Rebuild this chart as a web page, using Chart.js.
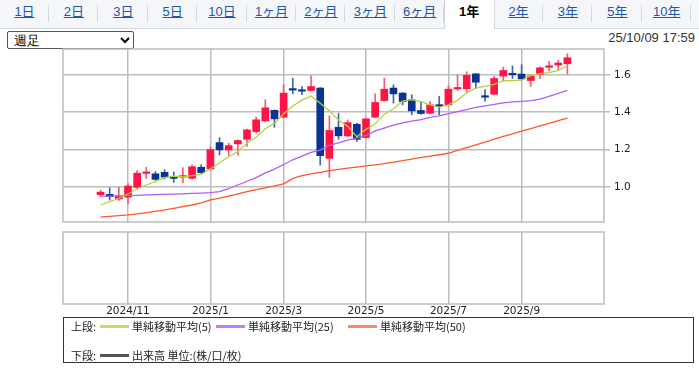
<!DOCTYPE html>
<html lang="ja">
<head>
<meta charset="utf-8">
<script src="https://cdn.jsdelivr.net/npm/chart.js@4.4.1/dist/chart.umd.min.js"></script>
<style>
body{margin:0;width:699px;height:370px;background:#fff;position:relative;overflow:hidden;font-family:Arial,"Liberation Sans","Noto Sans CJK JP",sans-serif}
#tabs{position:absolute;left:0;top:0;width:699px;height:28px;background:#f4f6f9;border-bottom:1px solid #d3d9e1}
.tab{position:absolute;top:0;width:49px;height:28px;line-height:24px;text-align:center;font-size:13px;color:#1f56a8;text-decoration:underline}
.tab:after{content:"";position:absolute;right:0;top:5px;height:17px;border-right:1px solid #d3d9e1}
.tab.on{background:#fff;color:#000;font-weight:bold;text-decoration:none;height:29px;border-left:1px solid #cfd5dd;border-right:1px solid #cfd5dd;margin-left:-1px}
.tab.on:after{display:none}
#period{position:absolute;left:7px;top:31px;width:127px;height:18px;font-size:13px;padding:0 2px;border:1px solid #555;border-radius:2px;background:#fff}
#stamp{position:absolute;right:4px;top:30px;font-size:13px;color:#333}
canvas{position:absolute;left:0}
#main{top:40px}
#sub{top:226px}
#legend{position:absolute;left:63px;top:317px;width:629px;height:44px;border:1.5px solid #333;font-size:11px;color:#222;font-family:"Noto Sans CJK JP",sans-serif}
.row{position:absolute;left:7px;height:14px;line-height:14px;white-space:nowrap}
.row span{position:absolute;top:0}
.sw{position:absolute;top:6px;width:29px;height:3px}
</style>
</head>
<body>
<div id="tabs"></div>
<select id="period"><option>週足</option></select>
<div id="stamp">25/10/09 17:59</div>
<canvas id="main" width="699" height="183"></canvas>
<canvas id="sub" width="699" height="100"></canvas>
<div id="legend">
  <div class="row" style="top:1px">
    <span style="left:0">上段:</span>
    <i class="sw" style="left:29px;background:#c0dc6a"></i><span style="left:61px">単純移動平均(5)</span>
    <i class="sw" style="left:145px;background:#bf7cff"></i><span style="left:177px">単純移動平均(25)</span>
    <i class="sw" style="left:277px;background:#ff8866"></i><span style="left:309px">単純移動平均(50)</span>
  </div>
  <div class="row" style="top:30px">
    <span style="left:0">下段:</span>
    <i class="sw" style="left:29px;background:#555"></i><span style="left:61px">出来高 単位:(株/口/枚)</span>
  </div>
</div>
<script>
const tabNames = ['1日','2日','3日','5日','10日','1ヶ月','2ヶ月','3ヶ月','6ヶ月','1年','2年','3年','5年','10年'];
const activeTab = '1年';

// 週足 2024/10/14 - 2025/10/06
const weeks = ['10/14','10/21','10/28','11/04','11/11','11/18','11/25','12/02','12/09','12/16','12/23','12/30',
  '01/06','01/13','01/20','01/27','02/03','02/10','02/17','02/24','03/03','03/10','03/17','03/24','03/31',
  '04/07','04/14','04/21','04/28','05/05','05/12','05/19','05/26','06/02','06/09','06/16','06/23','06/30',
  '07/07','07/14','07/21','07/28','08/04','08/11','08/18','08/25','09/01','09/08','09/15','09/22','09/29','10/06'];

const open  = [0.958,0.960,0.935,0.945,0.997,1.072,1.070,1.078,1.055,1.052,1.046,1.105,1.096,1.237,1.198,1.230,1.255,1.296,1.353,1.410,
  1.373,1.522,1.516,1.516,1.529,1.153,1.319,1.273,1.335,1.264,1.373,1.462,1.529,1.502,1.466,1.409,1.394,1.436,1.439,1.524,
  1.525,1.605,1.484,1.496,1.593,1.604,1.604,1.569,1.602,1.640,1.652,1.659];
const high  = [0.983,0.995,0.998,1.017,1.087,1.105,1.082,1.092,1.080,1.103,1.118,1.119,1.215,1.264,1.234,1.252,1.309,1.373,1.466,1.412,
  1.546,1.582,1.537,1.595,1.532,1.380,1.394,1.359,1.340,1.368,1.498,1.582,1.546,1.505,1.493,1.457,1.457,1.484,1.541,1.600,
  1.616,1.606,1.521,1.592,1.641,1.647,1.654,1.600,1.642,1.672,1.677,1.713];
const low   = [0.948,0.930,0.927,0.910,0.988,1.045,1.035,1.042,1.024,1.023,1.041,1.073,1.091,1.171,1.167,1.170,1.216,1.287,1.348,1.319,
  1.372,1.498,1.493,1.514,1.117,1.051,1.255,1.269,1.243,1.262,1.372,1.459,1.448,1.439,1.386,1.388,1.392,1.386,1.436,1.516,
  1.503,1.528,1.459,1.492,1.566,1.580,1.573,1.538,1.580,1.621,1.623,1.605];
const close = [0.972,0.948,0.950,1.005,1.073,1.075,1.040,1.052,1.045,1.056,1.108,1.076,1.200,1.198,1.221,1.248,1.305,1.359,1.423,1.364,
  1.502,1.518,1.512,1.537,1.167,1.302,1.273,1.344,1.255,1.364,1.452,1.523,1.498,1.457,1.407,1.393,1.439,1.432,1.523,1.530,
  1.597,1.560,1.480,1.580,1.623,1.600,1.578,1.594,1.637,1.648,1.663,1.691];

const ma5  = [0.903,0.921,0.939,0.962,0.990,1.010,1.029,1.049,1.057,1.054,1.060,1.067,1.097,1.128,1.161,1.189,1.234,1.266,1.311,1.340,
  1.391,1.433,1.464,1.487,1.447,1.407,1.358,1.325,1.268,1.308,1.338,1.388,1.418,1.459,1.467,1.456,1.439,1.426,1.439,1.463,
  1.504,1.528,1.538,1.549,1.568,1.569,1.572,1.595,1.606,1.611,1.624,1.647];
const ma25 = [0.950,0.951,0.952,0.953,0.955,0.957,0.958,0.960,0.961,0.963,0.965,0.967,0.969,0.975,0.990,1.010,1.030,1.050,1.075,1.095,
  1.120,1.145,1.165,1.185,1.197,1.222,1.235,1.250,1.262,1.275,1.300,1.315,1.330,1.342,1.352,1.360,1.372,1.380,1.392,1.403,
  1.414,1.425,1.433,1.442,1.450,1.455,1.458,1.462,1.470,1.485,1.500,1.517];
const ma50 = [0.838,0.842,0.846,0.850,0.856,0.862,0.869,0.877,0.885,0.894,0.903,0.915,0.930,0.940,0.951,0.962,0.974,0.985,0.995,1.005,
  1.016,1.045,1.060,1.070,1.078,1.087,1.094,1.100,1.106,1.112,1.118,1.125,1.132,1.140,1.148,1.158,1.165,1.172,1.180,1.195,
  1.210,1.225,1.240,1.255,1.270,1.284,1.298,1.312,1.326,1.340,1.354,1.368];
const volume = [];

const xTickIdx = [3, 12, 20, 29, 38, 46];
const xTickLabels = ['2024/11', '2025/1', '2025/3', '2025/5', '2025/7', '2025/9'];
const yTicks = [1.0, 1.2, 1.4, 1.6];

// タブ
const tabs = document.getElementById('tabs');
tabNames.forEach((t, i) => {
  const d = document.createElement('div');
  d.className = 'tab' + (t === activeTab ? ' on' : '');
  d.style.left = (i * 49.4) + 'px';
  d.textContent = t;
  tabs.appendChild(d);
});

const GRID = '#bdbdbd';
const UP = '#ff1545', UPW = '#ff5672';
const DOWN = '#0b3491', DOWNW = '#4263ad';
const isUp = close.map((c, i) => c >= open[i]);
const pts = arr => arr.map((v, i) => ({ x: i, y: v }));

const frame = {
  id: 'frame',
  beforeDatasetsDraw(c) {
    const a = c.chartArea, ctx = c.ctx;
    ctx.save();
    ctx.strokeStyle = GRID;
    ctx.lineWidth = 1.5;
    ctx.strokeRect(a.left, a.top, a.right - a.left, a.bottom - a.top);
    ctx.restore();
  }
};

const xScale = (showLabels) => ({
  type: 'linear', min: -4.1, max: 55, offset: false,
  afterBuildTicks: s => { s.ticks = xTickIdx.map(v => ({ value: v })); },
  ticks: {
    display: showLabels, autoSkip: false, maxRotation: 0, padding: 1,
    color: '#222', font: { size: 10.5, family: 'DejaVu Sans' },
    callback: v => xTickLabels[xTickIdx.indexOf(v)]
  },
  grid: { color: GRID, lineWidth: 1.5, drawTicks: false, offset: false },
  border: { display: false },
  afterFit: s => { s.height = showLabels ? 22 : 0; s.paddingLeft = 0; s.paddingRight = 0; }
});

new Chart(document.getElementById('main'), {
  type: 'bar',
  data: {
    datasets: [
      { type: 'line', label: '単純移動平均(5)', data: pts(ma5), borderColor: '#b3d33e', borderWidth: 1.3, pointRadius: 0, order: 0 },
      { type: 'line', label: '単純移動平均(25)', data: pts(ma25), borderColor: '#ad5cff', borderWidth: 1.3, pointRadius: 0, order: 0 },
      { type: 'line', label: '単純移動平均(50)', data: pts(ma50), borderColor: '#ff5630', borderWidth: 1.3, pointRadius: 0, order: 0 },
      { label: 'body', data: open.map((o, i) => ({ x: i, y: [o, close[i]] })),
        backgroundColor: isUp.map(u => u ? UP : DOWN), barThickness: 7, minBarLength: 1.5, order: 1 },
      { label: 'wick', data: low.map((l, i) => ({ x: i, y: [l, high[i]] })),
        backgroundColor: isUp.map(u => u ? UPW : DOWNW), barThickness: 1, order: 2 }
    ]
  },
  options: {
    responsive: false, animation: false, devicePixelRatio: 1,
    layout: { padding: { left: 63, top: 9, right: 0, bottom: 1 } },
    plugins: { legend: { display: false }, tooltip: { enabled: false } },
    datasets: { bar: { grouped: false } },
    scales: {
      x: xScale(false),
      y: {
        position: 'right', min: 0.812, max: 1.738,
        afterBuildTicks: s => { s.ticks = yTicks.map(v => ({ value: v })); },
        ticks: { color: '#222', padding: 4, font: { size: 10.5, family: 'DejaVu Sans' }, callback: v => v.toFixed(1) },
        grid: { color: GRID, lineWidth: 1.5, tickLength: 6 },
        border: { display: false },
        afterFit: s => { s.width = 95; s.paddingTop = 0; s.paddingBottom = 0; }
      }
    }
  },
  plugins: [frame]
});

new Chart(document.getElementById('sub'), {
  type: 'line',
  data: { datasets: [{ label: '出来高', data: volume, borderColor: '#555' }] },
  options: {
    responsive: false, animation: false, devicePixelRatio: 1,
    layout: { padding: { left: 63, top: 6, right: 0, bottom: 0 } },
    plugins: { legend: { display: false }, tooltip: { enabled: false } },
    scales: {
      x: xScale(true),
      y: {
        position: 'right', min: 0, max: 1,
        ticks: { display: false }, grid: { display: false }, border: { display: false },
        afterFit: s => { s.width = 95; }
      }
    }
  },
  plugins: [frame]
});
</script>
</body>
</html>
